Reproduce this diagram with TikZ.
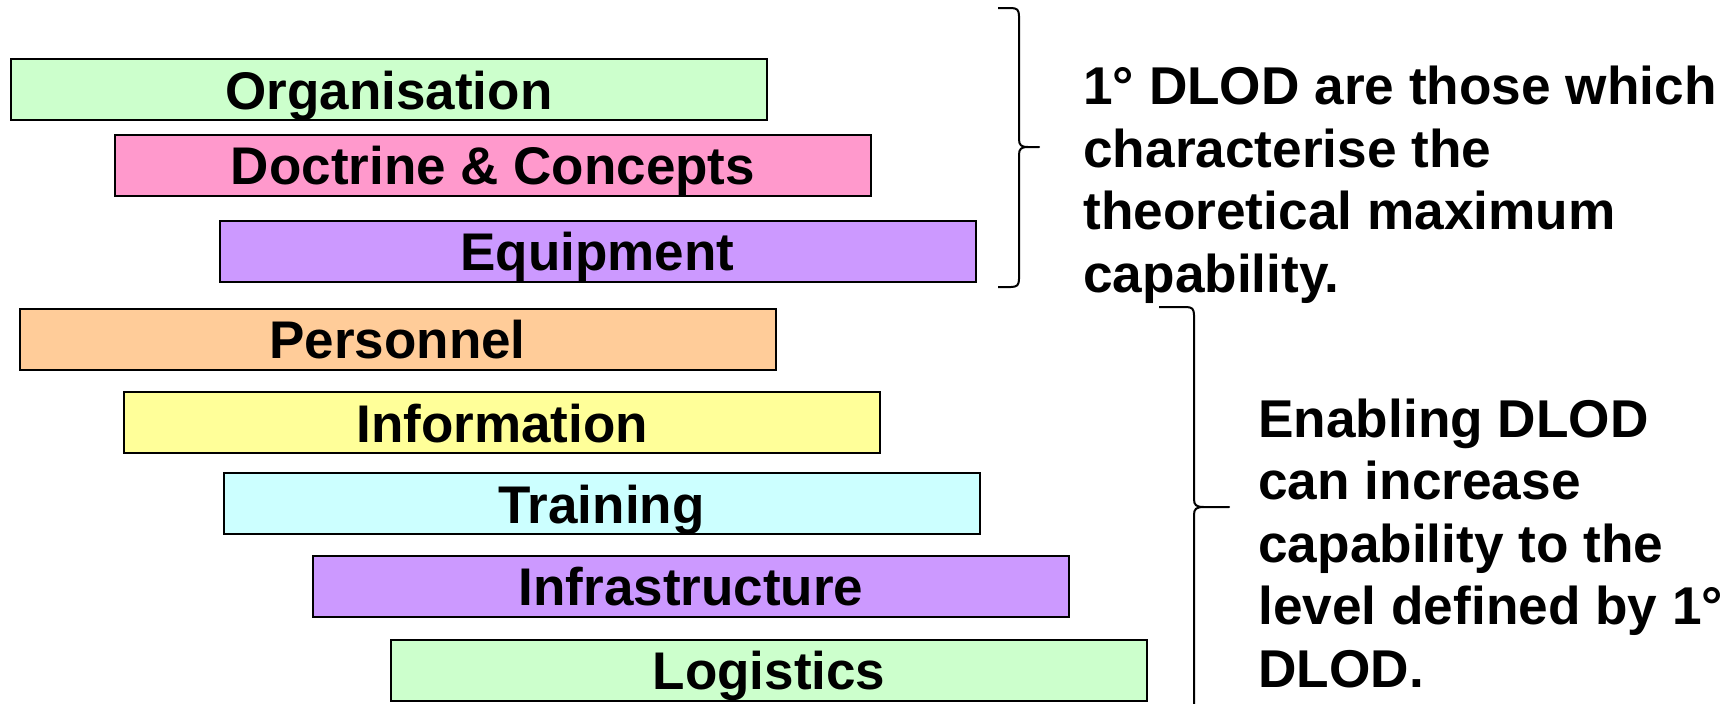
\documentclass[tikz,border=0pt]{standalone}
\usepackage{fontspec}
\setmainfont{Liberation Sans}
\definecolor{cgreen}{HTML}{CCFFCC}
\definecolor{cpink}{HTML}{FF99CC}
\definecolor{cpurple}{HTML}{CC99FF}
\definecolor{corange}{HTML}{FFCC99}
\definecolor{cyellow}{HTML}{FFFF99}
\definecolor{ccyan}{HTML}{CCFFFF}
\tikzset{
  bar/.style={draw=black, line width=1pt, rectangle, inner sep=0pt,
    minimum width=378pt, minimum height=30.5pt,
    text height=19.5pt, text depth=0pt,
    font=\fontsize{26.5}{31.25}\selectfont\bfseries},
  note/.style={inner sep=0pt, align=left, anchor=base west,
    font=\fontsize{26.6}{31.25}\selectfont\bfseries},
  brace/.style={draw=black, line width=1pt, line join=round}
}
\begin{document}
\begin{tikzpicture}[x=0.5pt, y=-0.5pt]
\useasboundingbox (0,0) rectangle (1734,703);
\node[bar, fill=cgreen]  (org)   at (389,89.5)  {Organisation};
\node[bar, fill=cpink]   (doc)   at (493,165)   {Doctrine \& Concepts};
\node[bar, fill=cpurple] (equip) at (597.5,251) {Equipment};
\node[bar, fill=corange] (pers)  at (397.5,339) {Personnel};
\node[bar, fill=cyellow] (info)  at (502,422.5) {Information};
\node[bar, fill=ccyan]   (train) at (601.5,503.5) {Training};
\node[bar, fill=cpurple] (infra) at (691,586)   {Infrastructure};
\node[bar, fill=cgreen]  (logi)  at (769,670)   {Logistics};

\coordinate (b1top) at (998,8);
\coordinate (b1tip) at (1039,147);
\coordinate (b1bot) at (998,287);
\draw[brace] (b1top) -- (1011,8) .. controls (1017,8) and (1019,10) .. (1019,16)
  -- (1019,139) .. controls (1019,145) and (1021,147) .. (1028,147) -- (b1tip)
  -- (1028,147) .. controls (1021,147) and (1019,149) .. (1019,155)
  -- (1019,279) .. controls (1019,285) and (1017,287) .. (1011,287) -- (b1bot);

\coordinate (b2top) at (1159,307);
\coordinate (b2tip) at (1229,507);
\coordinate (b2bot) at (1194,706);
\draw[brace] (b2top) -- (1186,307) .. controls (1192,307) and (1194,309) .. (1194,315)
  -- (1194,499) .. controls (1194,505) and (1196,507) .. (1204,507) -- (b2tip)
  -- (1204,507) .. controls (1196,507) and (1194,509) .. (1194,515)
  -- (b2bot);

\node[note] (t1) at (1083,292) {1° DLOD are those which\\characterise the\\theoretical maximum\\capability.};
\node[note] (t2) at (1258,687) {Enabling DLOD\\can increase\\capability to the\\level defined by 1°\\DLOD.};
\end{tikzpicture}
\end{document}
